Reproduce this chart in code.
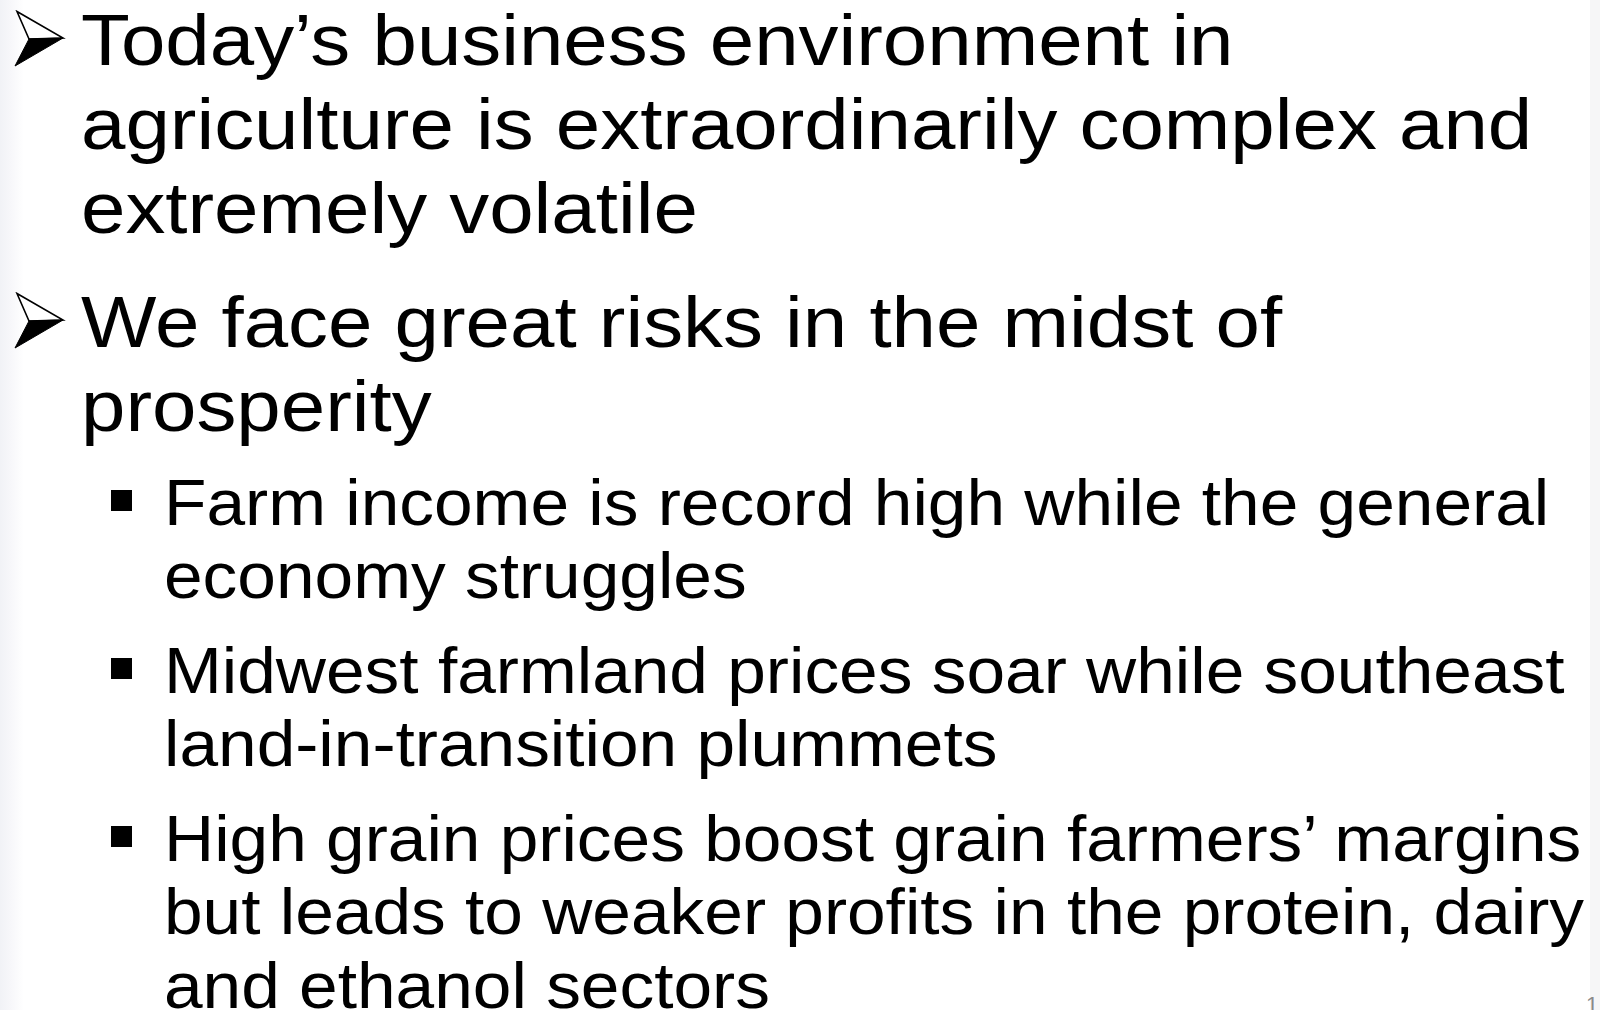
<!DOCTYPE html>
<html>
<head>
<meta charset="utf-8">
<script src="https://cdn.jsdelivr.net/npm/chart.js@4.4.3/dist/chart.umd.min.js"></script>
<style>
  html, body { margin: 0; padding: 0; }
  body {
    width: 1600px; height: 1010px; overflow: hidden; position: relative;
    background: #fff;
    font-family: "Liberation Sans", Arial, sans-serif; color: #000;
  }
  .edgeL { position: absolute; left: 0; top: 0; width: 24px; height: 1010px;
    background: linear-gradient(to right, #f1f2f6, #f7f7fa 45%, #fff); }
  .edgeR { position: absolute; right: 0; top: 0; width: 10px; height: 1010px; background: #f6f6f7; }
  .line { position: absolute; white-space: nowrap; transform-origin: 0 0; }
  .bullet1 { position: absolute; }
  .bullet2 { position: absolute; background: #000; }
  .pagenum { position: absolute; left: 1586px; top: 994px; font-size: 22px; line-height: 22px; color: #8a8a8a; }
</style>
</head>
<body>
<div class="edgeL"></div>
<div class="edgeR"></div>
<div id="slide"></div>
<div class="pagenum">1</div>
<script>
// slide text, one entry per bullet, one string per wrapped line
const topBullets = [
  ["Today\u2019s business environment in", "agriculture is extraordinarily complex and", "extremely volatile"],
  ["We face great risks in the midst of", "prosperity"]
];
const subBullets = [
  ["Farm income is record high while the general", "economy struggles"],
  ["Midwest farmland prices soar while southeast", "land-in-transition plummets"],
  ["High grain prices boost grain farmers\u2019 margins", "but leads to weaker profits in the protein, dairy", "and ethanol sectors"]
];

const slide = document.getElementById('slide');

// the slide text is a little wider than plain Arial (stretched slide)
function addLine(text, x, baseline, size, stretch) {
  const el = document.createElement('div');
  el.className = 'line';
  el.textContent = text;
  el.style.left = x + 'px';
  el.style.fontSize = size + 'px';
  el.style.lineHeight = size + 'px';
  el.style.top = (baseline - size * 0.8465) + 'px';
  el.style.transform = 'scaleX(' + stretch + ')';
  slide.appendChild(el);
}

function addArrow(baseline) {
  const ns = 'http://www.w3.org/2000/svg';
  const svg = document.createElementNS(ns, 'svg');
  svg.setAttribute('class', 'bullet1');
  svg.setAttribute('width', 52);
  svg.setAttribute('height', 58);
  svg.style.left = '14px';
  svg.style.top = (baseline - 55) + 'px';
  svg.innerHTML =
    '<polygon points="3,1.5 49,28 15,29" fill="#fff" stroke="#000" stroke-width="1.6" stroke-linejoin="miter"/>' +
    '<polygon points="15,29 49,28 1,56" fill="#000" stroke="#000" stroke-width="1"/>';
  slide.appendChild(svg);
}

function addSquare(baseline) {
  const el = document.createElement('div');
  el.className = 'bullet2';
  el.style.left = '111px';
  el.style.top = (baseline - 35) + 'px';
  el.style.width = '21px';
  el.style.height = '21px';
  slide.appendChild(el);
}

let y = 65;
topBullets.forEach((lines, i) => {
  if (i > 0) y += 30;
  addArrow(y);
  lines.forEach((t, j) => {
    if (j > 0) y += 84;
    addLine(t, 81, y, 72, 1.109);
  });
  y += 84;
});

y += 10;
subBullets.forEach((lines, i) => {
  if (i > 0) y += 94.5 - 73.5;
  addSquare(y);
  lines.forEach((t, j) => {
    if (j > 0) y += 73.5;
    addLine(t, 164, y, 65, 1.068);
  });
  y += 73.5;
});
</script>
</body>
</html>
